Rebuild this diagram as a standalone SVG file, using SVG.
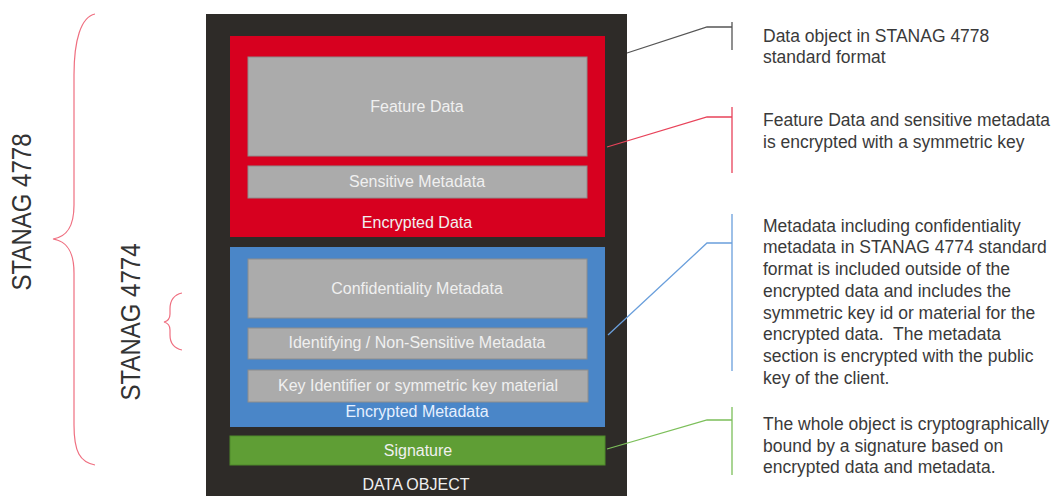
<svg xmlns="http://www.w3.org/2000/svg" width="1057" height="496" viewBox="0 0 1057 496">
<style>
text{font-family:"Liberation Sans",Arial,sans-serif}
.in{font-size:16px;fill:#f0f0f0;text-anchor:middle}
.gray{fill:#ababab;stroke:#8c8c8c;stroke-width:1}
.desc{font-size:17.5px;fill:#3a3a3a}
.big{font-size:27px;fill:#333}
.brace{fill:none;stroke:#ef6f80;stroke-width:1.2}
.lead{fill:none;stroke-width:1.3}
</style>
<rect width="1057" height="496" fill="#fff"/>
<g id="labels-left">
<path class="brace" d="M95,14 C81,17 74,40 74,75 L74,205 C74,228 66,237 53,239 C66,241 74,250 74,273 L74,425 C74,452 80,462 95,465"/>
<path class="brace" d="M182,293 C173,295 170,301 170,309 L170,314 C170,319 168,321 164,322 C168,323 170,325 170,330 L170,335 C170,343 173,348 182,350"/>
<text class="big" transform="translate(31,212) rotate(-90)" text-anchor="middle" textLength="157" lengthAdjust="spacingAndGlyphs">STANAG 4778</text>
<text class="big" transform="translate(140,322) rotate(-90)" text-anchor="middle" textLength="157" lengthAdjust="spacingAndGlyphs">STANAG 4774</text>
</g>
<g id="data-object">
<rect x="206" y="14" width="421" height="490" fill="#2e2b28"/>
<text class="in" x="416" y="490">DATA OBJECT</text>
</g>
<g id="encrypted-data">
<rect x="230" y="36" width="375" height="201" fill="#d7001f"/>
<text class="in" x="417" y="228">Encrypted Data</text>
</g>
<g id="feature-data">
<rect class="gray" x="248" y="57" width="339" height="99"/>
<text class="in" x="417" y="112">Feature Data</text>
</g>
<g id="sensitive-metadata">
<rect class="gray" x="248" y="166" width="339" height="32"/>
<text class="in" x="417" y="187">Sensitive Metadata</text>
</g>
<g id="encrypted-metadata">
<rect x="230" y="247" width="375" height="180" fill="#4a86c8"/>
<text class="in" x="417" y="417" style="fill:#e6f0ff">Encrypted Metadata</text>
</g>
<g id="confidentiality-metadata">
<rect class="gray" x="248" y="259" width="339" height="59"/>
<text class="in" x="417" y="294">Confidentiality Metadata</text>
</g>
<g id="identifying-metadata">
<rect class="gray" x="248" y="328" width="339" height="31"/>
<text class="in" x="417" y="348">Identifying / Non-Sensitive Metadata</text>
</g>
<g id="key-identifier">
<rect class="gray" x="248" y="370" width="340" height="32"/>
<text class="in" x="418" y="391">Key Identifier or symmetric key material</text>
</g>
<g id="signature">
<rect x="230" y="436" width="375" height="29" fill="#5f9e35" stroke="#4e8a2a"/>
<text class="in" x="418" y="456">Signature</text>
</g>
<g id="connectors">
<path class="lead" stroke="#555" d="M627,53 L707,27 L732,27 M732,22 L732,50"/>
<path class="lead" stroke="#e8435a" d="M607,147 L707,117 L732,117 M732,107 L732,173"/>
<path class="lead" stroke="#6a9fdc" d="M608,335 L707,243 L732,243 M732,214 L732,371"/>
<path class="lead" stroke="#7cbf5a" d="M607,449 L707,420 L732,420 M732,407 L732,475"/>
</g>
<g id="descriptions">
<text class="desc" x="763" y="41.5">Data object in STANAG 4778</text>
<text class="desc" x="763" y="63.3">standard format</text>
<text class="desc" x="763" y="126">Feature Data and sensitive metadata</text>
<text class="desc" x="763" y="147.7">is encrypted with a symmetric key</text>
<text class="desc" x="763" y="231.7">Metadata including confidentiality</text>
<text class="desc" x="763" y="253.4">metadata in STANAG 4774 standard</text>
<text class="desc" x="763" y="275.1">format is included outside of the</text>
<text class="desc" x="763" y="296.8">encrypted data and includes the</text>
<text class="desc" x="763" y="318.5">symmetric key id or material for the</text>
<text class="desc" x="763" y="340.2" xml:space="preserve">encrypted data.  The metadata</text>
<text class="desc" x="763" y="361.9">section is encrypted with the public</text>
<text class="desc" x="763" y="383.6">key of the client.</text>
<text class="desc" x="763" y="430">The whole object is cryptographically</text>
<text class="desc" x="763" y="451.7">bound by a signature based on</text>
<text class="desc" x="763" y="473.4">encrypted data and metadata.</text>
</g>
</svg>
